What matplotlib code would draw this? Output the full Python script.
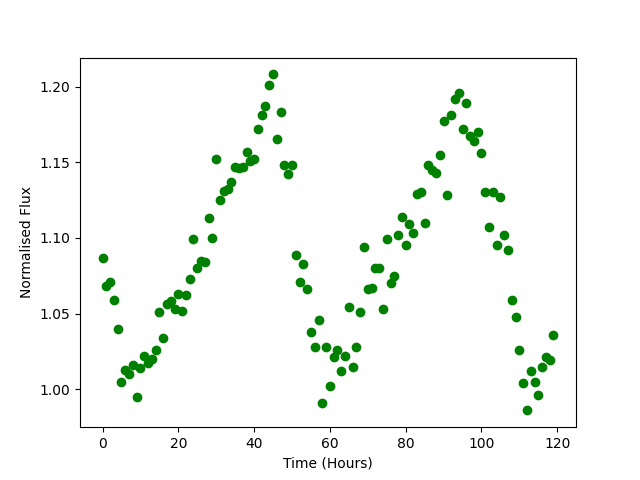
import numpy as np
import matplotlib
matplotlib.use("Agg")
import matplotlib.pyplot as plt

# hourly samples, 0..119
hours = np.arange(120)

flux = [
    1.087, 1.068, 1.071, 1.059, 1.040, 1.005, 1.013, 1.010, 1.016, 0.995,
    1.014, 1.022, 1.017, 1.020, 1.026, 1.051, 1.034, 1.056, 1.058, 1.053,
    1.063, 1.052, 1.062, 1.073, 1.099, 1.080, 1.085, 1.084, 1.113, 1.100,
    1.152, 1.125, 1.131, 1.132, 1.137, 1.147, 1.146, 1.147, 1.157, 1.151,
    1.152, 1.172, 1.181, 1.187, 1.201, 1.208, 1.165, 1.183, 1.148, 1.142,
    1.148, 1.089, 1.071, 1.083, 1.066, 1.038, 1.028, 1.046, 0.991, 1.028,
    1.002, 1.021, 1.026, 1.012, 1.022, 1.054, 1.015, 1.028, 1.051, 1.094,
    1.066, 1.067, 1.080, 1.080, 1.053, 1.099, 1.070, 1.075, 1.102, 1.114,
    1.095, 1.109, 1.103, 1.129, 1.130, 1.110, 1.148, 1.145, 1.143, 1.155,
    1.177, 1.128, 1.181, 1.192, 1.196, 1.172, 1.189, 1.167, 1.164, 1.170,
    1.156, 1.130, 1.107, 1.130, 1.095, 1.127, 1.102, 1.092, 1.059, 1.048,
    1.026, 1.004, 0.986, 1.012, 1.005, 0.996, 1.0145, 1.021, 1.019, 1.036,
]

fig = plt.figure(figsize=(6.4, 4.8), dpi=100)
ax = fig.add_subplot(1, 1, 1)
ax.plot(hours, flux, 'go')
ax.set_xlabel("Time (Hours)")
ax.set_ylabel("Normalised Flux")

fig.savefig("out.png")
